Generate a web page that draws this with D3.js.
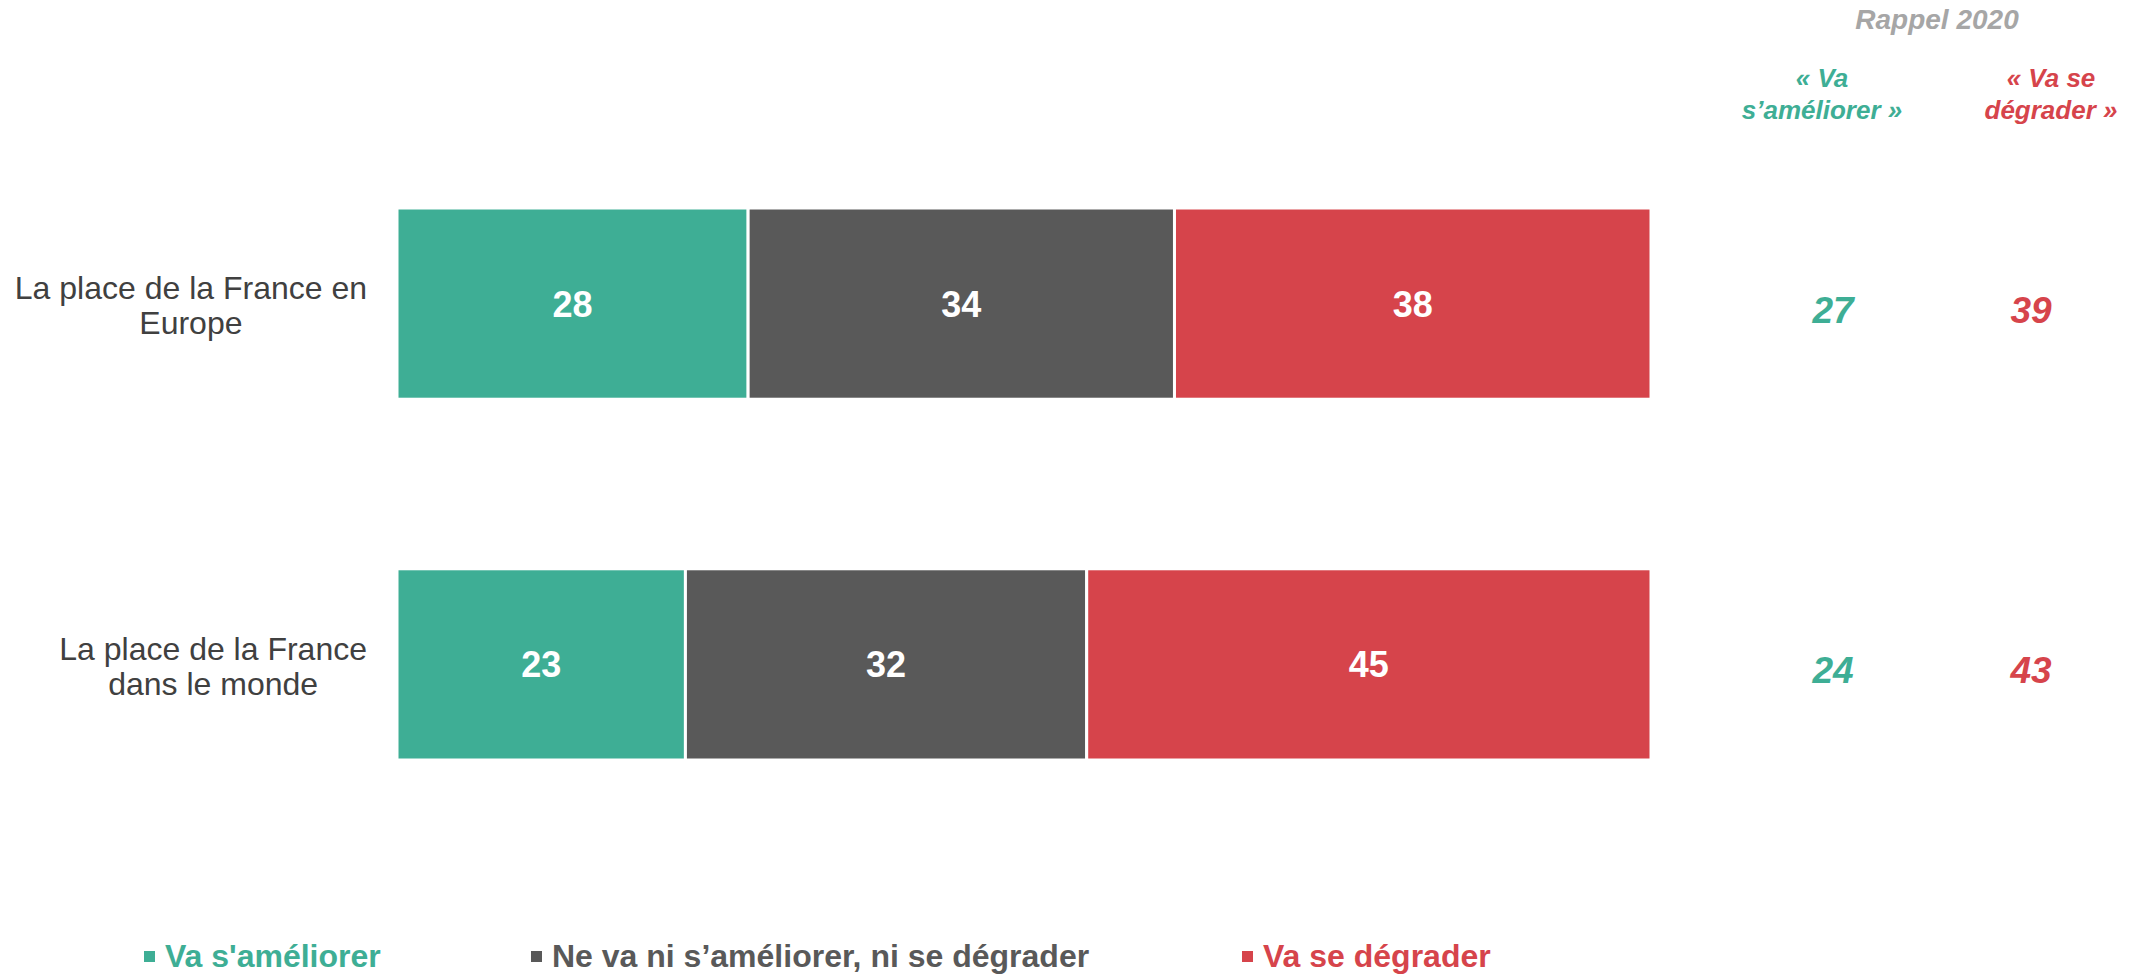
<!DOCTYPE html>
<html>
<head>
<meta charset="utf-8">
<script src="https://cdn.jsdelivr.net/npm/d3@7"></script>
<style>
  body { margin: 0; background: #fff; }
  svg { display: block; font-family: "Liberation Sans", Arial, sans-serif; }
</style>
</head>
<body>
<svg id="chart" width="2148" height="975"></svg>
<script>
// Data
const categories = [
  ['La place de la France en', 'Europe'],
  ['La place de la France', 'dans le monde']
];
const seriesNames = ["Va s'améliorer", 'Ne va ni s’améliorer, ni se dégrader', 'Va se dégrader'];
const ameliorer = [28, 23];
const neutre = [34, 32];
const degrader = [38, 45];
const rappelAmeliorer = [27, 24];
const rappelDegrader = [39, 43];

const colors = ['#3EAE95', '#595959', '#D6444B'];

const width = 2148, height = 975;
const svg = d3.select('#chart');

const rowKeys = categories.map((c, i) => 'r' + i);
const x = d3.scaleLinear().domain([0, 100]).range([397, 1651]);
const y = d3.scaleBand().domain(rowKeys).range([208, 760]).paddingInner(0.47).paddingOuter(0);

// Stack data
const table = rowKeys.map((k, i) => ({ key: k, a: ameliorer[i], n: neutre[i], d: degrader[i] }));
const stack = d3.stack().keys(['a', 'n', 'd'])(table);

const layers = svg.append('g')
  .selectAll('g')
  .data(stack)
  .join('g')
  .attr('fill', (d, i) => colors[i]);

layers.selectAll('rect')
  .data(d => d)
  .join('rect')
  .attr('x', d => x(d[0]))
  .attr('y', d => y(d.data.key))
  .attr('width', d => x(d[1]) - x(d[0]))
  .attr('height', y.bandwidth())
  .attr('stroke', '#fff')
  .attr('stroke-width', 3);

// Values inside bars
layers.selectAll('text')
  .data(d => d)
  .join('text')
  .attr('x', d => (x(d[0]) + x(d[1])) / 2)
  .attr('y', d => y(d.data.key) + y.bandwidth() / 2 + 13)
  .attr('text-anchor', 'middle')
  .attr('fill', '#fff')
  .style('font-size', '36px')
  .style('font-weight', '700')
  .text(d => d[1] - d[0]);

// Row labels: lines centered on each other, block right-aligned
const labelRight = 367;
categories.forEach((lines, i) => {
  const g = svg.append('g');
  const cy = y(rowKeys[i]) + y.bandwidth() / 2;
  const lh = 35;
  const t = g.selectAll('text')
    .data(lines)
    .join('text')
    .attr('y', (d, j) => cy + 13 + (j - (lines.length - 1) / 2) * lh)
    .attr('text-anchor', 'middle')
    .attr('fill', '#404040')
    .style('font-size', '32px')
    .text(d => d);
  const maxW = d3.max(t.nodes(), n => n.getComputedTextLength());
  t.attr('x', labelRight - maxW / 2);
});

// Rappel 2020 columns
const colA = 1822, colD = 2040;
svg.append('text')
  .attr('x', 1937).attr('y', 29)
  .attr('text-anchor', 'middle')
  .attr('fill', '#A6A6A6')
  .style('font-size', '28px').style('font-weight', '700').style('font-style', 'italic')
  .text('Rappel 2020');

const headers = [
  { x: colA, lines: ['« Va', 's’améliorer »'], color: colors[0] },
  { x: 2051, lines: ['« Va se', 'dégrader »'], color: colors[2] }
];
headers.forEach(h => {
  svg.append('g').selectAll('text')
    .data(h.lines)
    .join('text')
    .attr('x', h.x)
    .attr('y', (d, j) => 87 + j * 32)
    .attr('text-anchor', 'middle')
    .attr('fill', h.color)
    .style('font-size', '26px').style('font-weight', '700').style('font-style', 'italic')
    .text(d => d);
});

[[rappelAmeliorer, colA + 11, colors[0]], [rappelDegrader, colD - 9, colors[2]]].forEach(([vals, cx, col]) => {
  svg.append('g').selectAll('text')
    .data(vals)
    .join('text')
    .attr('x', cx)
    .attr('y', (d, i) => y(rowKeys[i]) + y.bandwidth() / 2 + 19)
    .attr('text-anchor', 'middle')
    .attr('fill', col)
    .style('font-size', '37px').style('font-weight', '700').style('font-style', 'italic')
    .text(d => d);
});

// Legend
const legendX = [144, 531, 1242];
const legend = svg.append('g')
  .selectAll('g')
  .data(seriesNames)
  .join('g')
  .attr('transform', (d, i) => `translate(${legendX[i]},956)`);

legend.append('rect')
  .attr('x', 0).attr('y', -5)
  .attr('width', 11).attr('height', 11)
  .attr('fill', (d, i) => colors[i]);

legend.append('text')
  .attr('x', 21).attr('y', 11)
  .attr('fill', (d, i) => colors[i])
  .style('font-size', '32px').style('font-weight', '700')
  .text(d => d);
</script>
</body>
</html>
